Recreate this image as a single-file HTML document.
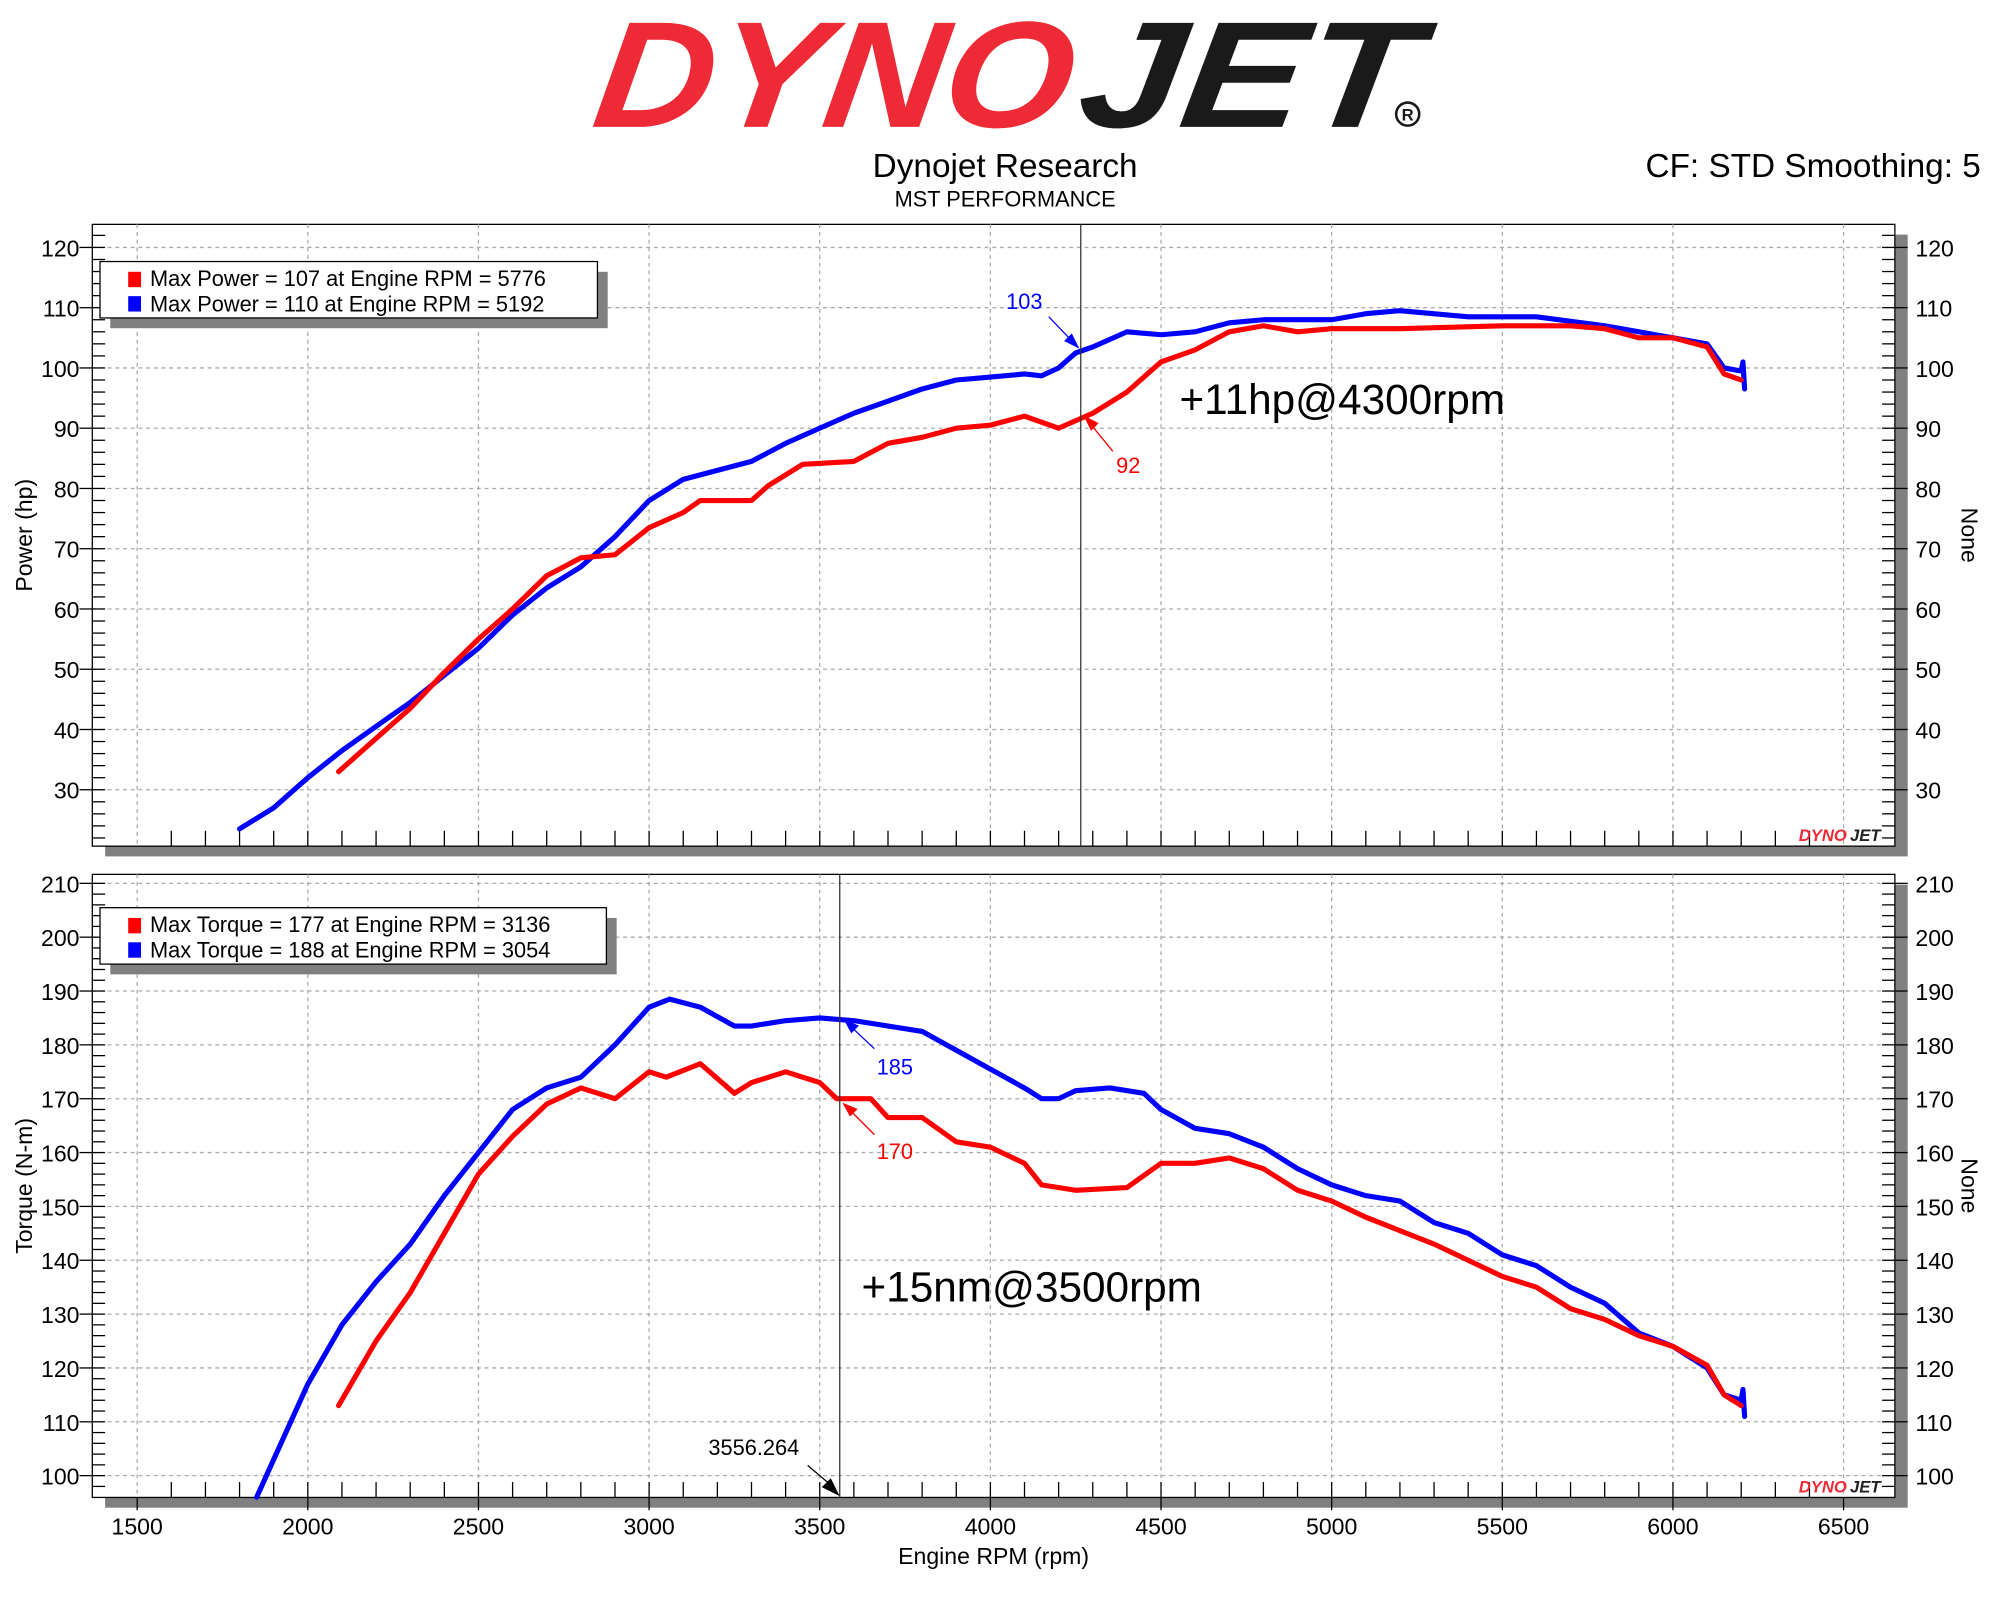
<!DOCTYPE html>
<html><head><meta charset="utf-8"><style>
html,body{margin:0;padding:0;background:#fff}
svg{display:block}
text{font-family:"Liberation Sans","DejaVu Sans",sans-serif}
</style></head><body>
<svg id="s" width="2000" height="1600" viewBox="0 0 1560 1248" xmlns="http://www.w3.org/2000/svg">
<rect width="1560" height="1248" fill="#fff"/>
<!-- logo -->
<text x="460" y="99" font-size="118" font-weight="bold" font-style="italic" fill="#ee2a36" textLength="372" lengthAdjust="spacingAndGlyphs" transform="skewX(-8) translate(14,0)">DYNO</text>
<text x="838" y="99" font-size="118" font-weight="bold" font-style="italic" fill="#1a1a1a" textLength="262" lengthAdjust="spacingAndGlyphs" transform="skewX(-8) translate(14,0)">JET</text>
<circle cx="1098" cy="89" r="9" fill="none" stroke="#1a1a1a" stroke-width="2"/>
<text x="1098" y="94" font-size="13" font-weight="bold" text-anchor="middle" fill="#1a1a1a">R</text>
<text x="784" y="138" font-size="26" text-anchor="middle">Dynojet Research</text>
<text x="784" y="161" font-size="17" text-anchor="middle">MST PERFORMANCE</text>
<text x="1545" y="138" font-size="26" text-anchor="end">CF: STD Smoothing: 5</text>
<g id="g"></g>
</svg>
<script>
var NS="http://www.w3.org/2000/svg",G=document.getElementById('g');
function el(t,a,txt){var e=document.createElementNS(NS,t);for(var k in a)e.setAttribute(k,a[k]);if(txt!=null)e.textContent=txt;G.appendChild(e);return e;}
function X(r){return 107+(r-1500)*0.2662;}
var L=72,R=1478;
function panel(top,bot,ymin,ymax,ytop,ybot,step,label,minor){
  var Y=function(v){return ytop+(ymax-v)*(ybot-ytop)/(ymax-ymin)};
  el('rect',{x:L+10,y:top+8,width:R-L,height:bot-top,fill:'#808080'});
  el('rect',{x:L,y:top,width:R-L,height:bot-top,fill:'#fff',stroke:'#000','stroke-width':1});
  for(var r=1500;r<=6500;r+=500){var x=X(r);if(x>L&&x<R)el('line',{x1:x,y1:top,x2:x,y2:bot,stroke:'#aaa','stroke-dasharray':'3,3','stroke-width':1});}
  for(var v=ymin;v<=ymax;v+=step){var y=Y(v);if(y>top&&y<bot)el('line',{x1:L,y1:y,x2:R,y2:y,stroke:'#aaa','stroke-dasharray':'3,3','stroke-width':1});
    el('line',{x1:L-10,y1:y,x2:L,y2:y,stroke:'#000'});el('line',{x1:R,y1:y,x2:R+10,y2:y,stroke:'#000'});
    el('text',{x:L-10,y:y+7,'font-size':18,'text-anchor':'end'},v);
    el('text',{x:R+16,y:y+7,'font-size':18},v);}
  for(var v=ymin-step;v<=ymax+step;v+=minor){var y=Y(v);if(y>top+2&&y<bot-2){el('line',{x1:L,y1:y,x2:L+10,y2:y,stroke:'#000'});el('line',{x1:R-10,y1:y,x2:R,y2:y,stroke:'#000'});}}
  for(var r=1600;r<=6400;r+=100){var x=X(r);el('line',{x1:x,y1:bot-12,x2:x,y2:bot,stroke:'#000'});}
  var cy=(top+bot)/2;
  el('text',{x:25,y:cy,'font-size':18,'text-anchor':'middle',transform:'rotate(-90 25 '+cy+')'},label);
  el('text',{x:1530,y:cy,'font-size':18,'text-anchor':'middle',transform:'rotate(90 1530 '+cy+')'},'None');
  el('text',{x:1403,y:bot-4,'font-size':13,'font-weight':'bold','font-style':'italic',fill:'#ee2a36'},'DYNO');
  el('text',{x:1443,y:bot-4,'font-size':13,'font-weight':'bold','font-style':'italic',fill:'#222'},'JET');
  return Y;
}
function line(d,Y,c){var p='';d.forEach(function(a,i){p+=(i?'L':'M')+X(a[0]).toFixed(1)+','+Y(a[1]).toFixed(1)});el('path',{d:p,fill:'none',stroke:c,'stroke-width':4,'stroke-linejoin':'round','stroke-linecap':'round'});}
function legend(x,y,w,t1,t2){el('rect',{x:x+8,y:y+8,width:w,height:44,fill:'#808080'});el('rect',{x:x,y:y,width:w,height:44,fill:'#fff',stroke:'#000'});
 el('rect',{x:x+22,y:y+8,width:10,height:12,fill:'#f00'});el('rect',{x:x+22,y:y+27,width:10,height:12,fill:'#00f'});
 el('text',{x:x+39,y:y+19,'font-size':17},t1);el('text',{x:x+39,y:y+39,'font-size':17},t2);}
var Y1=panel(175,660,30,120,193,616,10,'Power (hp)',2);
line([[1800,23.5],[1900,27],[2000,32],[2100,36.5],[2200,40.5],[2300,44.5],[2400,49],[2500,53.5],[2600,59],[2700,63.5],[2800,67],[2900,72],[3000,78],[3100,81.5],[3200,83],[3300,84.5],[3400,87.5],[3500,90],[3600,92.5],[3700,94.5],[3800,96.5],[3900,98],[4000,98.5],[4100,99],[4150,98.7],[4200,100],[4250,102.5],[4300,103.5],[4400,106],[4500,105.5],[4600,106],[4700,107.5],[4800,108],[5000,108],[5100,109],[5200,109.5],[5400,108.5],[5600,108.5],[5800,107],[6000,105],[6100,104],[6150,100],[6200,99.5],[6205,101],[6210,96.5]],Y1,'#00f');
line([[2090,33],[2200,38.5],[2300,43.5],[2400,49.5],[2500,55],[2600,60],[2700,65.5],[2800,68.5],[2900,69],[3000,73.5],[3100,76],[3150,78],[3300,78],[3350,80.5],[3450,84],[3600,84.5],[3700,87.5],[3800,88.5],[3900,90],[4000,90.5],[4100,92],[4200,90],[4300,92.5],[4400,96],[4500,101],[4600,103],[4700,106],[4800,107],[4900,106],[5000,106.5],[5200,106.5],[5500,107],[5700,107],[5800,106.5],[5900,105],[6000,105],[6100,103.5],[6150,99],[6200,98]],Y1,'#f00');
el('line',{x1:843,y1:175,x2:843,y2:660,stroke:'#333','stroke-width':1});
legend(78,204,388,'Max Power = 107 at Engine RPM = 5776','Max Power = 110 at Engine RPM = 5192');
el('line',{x1:818,y1:247,x2:838,y2:268,stroke:'#00f'});el('path',{d:'M842,272 L830,266 L836,260Z',fill:'#00f'});
el('text',{x:799,y:241,'font-size':17,fill:'#00f','text-anchor':'middle'},'103');
el('line',{x1:868,y1:352,x2:850,y2:330,stroke:'#f00'});el('path',{d:'M845,324 L857,330 L851,336Z',fill:'#f00'});
el('text',{x:880,y:369,'font-size':17,fill:'#f00','text-anchor':'middle'},'92');
el('text',{x:920,y:323,'font-size':33},'+11hp@4300rpm');

var Y2=panel(682,1168,100,210,689,1151,10,'Torque (N-m)',2);
line([[1850,96],[1900,103],[2000,117],[2100,128],[2200,136],[2300,143],[2400,152],[2500,160],[2600,168],[2700,172],[2800,174],[2900,180],[3000,187],[3060,188.5],[3150,187],[3250,183.5],[3300,183.5],[3400,184.5],[3500,185],[3600,184.5],[3700,183.5],[3800,182.5],[3900,179],[4000,175.5],[4100,172],[4150,170],[4200,170],[4250,171.5],[4350,172],[4450,171],[4500,168],[4600,164.5],[4700,163.5],[4800,161],[4900,157],[5000,154],[5100,152],[5200,151],[5300,147],[5400,145],[5500,141],[5600,139],[5700,135],[5800,132],[5900,126.5],[6000,124],[6100,120],[6150,115],[6200,114],[6205,116],[6210,111]],Y2,'#00f');
line([[2090,113],[2200,125],[2300,134],[2400,145],[2500,156],[2600,163],[2700,169],[2800,172],[2900,170],[3000,175],[3050,174],[3150,176.5],[3250,171],[3300,173],[3400,175],[3500,173],[3550,170],[3650,170],[3700,166.5],[3800,166.5],[3900,162],[4000,161],[4100,158],[4150,154],[4250,153],[4400,153.5],[4500,158],[4600,158],[4700,159],[4800,157],[4900,153],[5000,151],[5100,148],[5200,145.5],[5300,143],[5400,140],[5500,137],[5600,135],[5700,131],[5800,129],[5900,126],[6000,124],[6100,120.5],[6150,115],[6200,113]],Y2,'#f00');
el('line',{x1:655,y1:682,x2:655,y2:1168,stroke:'#333','stroke-width':1});
legend(78,708,395,'Max Torque = 177 at Engine RPM = 3136','Max Torque = 188 at Engine RPM = 3054');
el('line',{x1:682,y1:818,x2:664,y2:801,stroke:'#00f'});el('path',{d:'M658,795 L670,800 L664,806Z',fill:'#00f'});
el('text',{x:698,y:838,'font-size':17,fill:'#00f','text-anchor':'middle'},'185');
el('line',{x1:682,y1:885,x2:663,y2:866,stroke:'#f00'});el('path',{d:'M657,860 L669,865 L663,871Z',fill:'#f00'});
el('text',{x:698,y:904,'font-size':17,fill:'#f00','text-anchor':'middle'},'170');
el('text',{x:672,y:1015,'font-size':33},'+15nm@3500rpm');
el('text',{x:588,y:1135,'font-size':17,'text-anchor':'middle'},'3556.264');
el('line',{x1:630,y1:1143,x2:650,y2:1160,stroke:'#000'});el('path',{d:'M655,1167 L641,1160 L648,1153Z',fill:'#000'});
for(var r=1500;r<=6500;r+=500){var x=X(r);el('line',{x1:x,y1:1168,x2:x,y2:1178,stroke:'#000'});el('text',{x:x,y:1197,'font-size':18,'text-anchor':'middle'},r);}
el('text',{x:775,y:1220,'font-size':18,'text-anchor':'middle'},'Engine RPM (rpm)');
</script>
</body></html>
